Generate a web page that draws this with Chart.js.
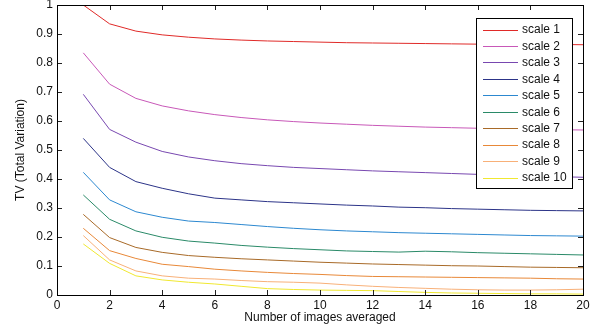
<!DOCTYPE html>
<html>
<head>
<meta charset="utf-8">
<script src="https://cdn.jsdelivr.net/npm/chart.js@4/dist/chart.umd.min.js"></script>
<style>
  html, body { margin: 0; padding: 0; background: #fff; }
  #wrap { width: 598px; height: 329px; }
</style>
</head>
<body>
<div id="wrap"><canvas id="tvChart"></canvas></div>
<script>
const images = [1, 2, 3, 4, 5, 6, 7, 8, 9, 10, 11, 12, 13, 14, 15, 16, 17, 18, 19, 20];

const scale1 = [1.000, 0.935, 0.910, 0.897, 0.889, 0.883, 0.879, 0.876, 0.874, 0.872, 0.870, 0.869, 0.868, 0.867, 0.866, 0.865, 0.865, 0.864, 0.864, 0.863];
const scale2 = [0.835, 0.727, 0.678, 0.652, 0.635, 0.622, 0.612, 0.604, 0.598, 0.593, 0.589, 0.585, 0.582, 0.579, 0.577, 0.575, 0.573, 0.572, 0.570, 0.569];
const scale3 = [0.692, 0.571, 0.527, 0.495, 0.476, 0.463, 0.453, 0.446, 0.440, 0.436, 0.432, 0.428, 0.425, 0.422, 0.419, 0.416, 0.413, 0.410, 0.408, 0.406];
const scale4 = [0.540, 0.440, 0.391, 0.368, 0.349, 0.334, 0.328, 0.322, 0.318, 0.314, 0.310, 0.307, 0.303, 0.301, 0.298, 0.296, 0.294, 0.292, 0.291, 0.290];
const scale5 = [0.423, 0.328, 0.287, 0.268, 0.255, 0.250, 0.243, 0.236, 0.230, 0.225, 0.221, 0.218, 0.215, 0.213, 0.211, 0.209, 0.207, 0.205, 0.204, 0.203];
const scale6 = [0.345, 0.261, 0.221, 0.199, 0.186, 0.179, 0.171, 0.165, 0.160, 0.156, 0.152, 0.150, 0.148, 0.151, 0.149, 0.146, 0.144, 0.142, 0.140, 0.138];
const scale7 = [0.278, 0.198, 0.164, 0.147, 0.136, 0.130, 0.125, 0.121, 0.117, 0.113, 0.110, 0.107, 0.105, 0.103, 0.101, 0.100, 0.098, 0.096, 0.095, 0.094];
const scale8 = [0.230, 0.153, 0.126, 0.106, 0.098, 0.089, 0.083, 0.078, 0.074, 0.071, 0.067, 0.064, 0.063, 0.062, 0.061, 0.060, 0.059, 0.058, 0.056, 0.055];
const scale9 = [0.205, 0.121, 0.083, 0.066, 0.058, 0.055, 0.050, 0.046, 0.044, 0.041, 0.035, 0.030, 0.026, 0.023, 0.020, 0.018, 0.017, 0.017, 0.018, 0.020];
const scale10 = [0.176, 0.109, 0.066, 0.052, 0.044, 0.038, 0.030, 0.022, 0.019, 0.017, 0.016, 0.015, 0.012, 0.009, 0.007, 0.006, 0.005, 0.004, 0.004, 0.003];

const seriesNames = ["scale 1", "scale 2", "scale 3", "scale 4", "scale 5", "scale 6", "scale 7", "scale 8", "scale 9", "scale 10"];
const seriesValues = [scale1, scale2, scale3, scale4, scale5, scale6, scale7, scale8, scale9, scale10];
const seriesColors = ["#e02a28", "#c858b8", "#7848b0", "#2c3488", "#2c88d0", "#2a8a68", "#a86a28", "#e88838", "#f8b078", "#f0e830"];

const xTicks = [0, 2, 4, 6, 8, 10, 12, 14, 16, 18, 20];
const yTicks = [0, 0.1, 0.2, 0.3, 0.4, 0.5, 0.6, 0.7, 0.8, 0.9, 1];

const FONT = "'Liberation Sans', Arial, Helvetica, sans-serif";

// box around the plot with ticks pointing inward, plus legend inside the plot
const framePlugin = {
    id: "frame",
    afterDraw(chart) {
        const ctx = chart.ctx;
        const a = chart.chartArea;
        const xs = chart.scales.x;
        const ys = chart.scales.y;
        const len = 5;
        ctx.save();
        ctx.strokeStyle = "#222";
        ctx.lineWidth = 1;
        ctx.beginPath();
        xTicks.forEach(v => {
            const px = Math.round(xs.getPixelForValue(v)) + 0.5;
            ctx.moveTo(px, a.bottom); ctx.lineTo(px, a.bottom - len);
            ctx.moveTo(px, a.top); ctx.lineTo(px, a.top + len);
        });
        yTicks.forEach(v => {
            const py = Math.round(ys.getPixelForValue(v)) + 0.5;
            ctx.moveTo(a.left, py); ctx.lineTo(a.left + len, py);
            ctx.moveTo(a.right, py); ctx.lineTo(a.right - len, py);
        });
        ctx.stroke();
        ctx.strokeStyle = "#000";
        ctx.strokeRect(Math.round(a.left) + 0.5, Math.round(a.top) + 0.5,
            Math.round(a.right - a.left), Math.round(a.bottom - a.top));

        // legend
        const bx = 476.5, by = 18.5, bw = 96, bh = 170;
        ctx.fillStyle = "#fff";
        ctx.fillRect(bx, by, bw, bh);
        ctx.strokeStyle = "#000";
        ctx.strokeRect(bx, by, bw, bh);
        ctx.font = "12px " + FONT;
        ctx.textBaseline = "middle";
        chart.data.datasets.forEach((ds, i) => {
            const y = 29.5 + i * 16.45;
            ctx.strokeStyle = ds.borderColor;
            ctx.beginPath();
            ctx.moveTo(483, Math.round(y) + 0.5);
            ctx.lineTo(518, Math.round(y) + 0.5);
            ctx.stroke();
            ctx.fillStyle = "#111";
            ctx.fillText(ds.label, 522, y + 0.5);
        });
        ctx.restore();
    }
};

new Chart(document.getElementById("tvChart"), {
    type: "line",
    data: {
        datasets: seriesValues.map((vals, i) => ({
            label: seriesNames[i],
            data: vals.map((v, j) => ({ x: images[j], y: v })),
            borderColor: seriesColors[i],
            backgroundColor: seriesColors[i],
            borderWidth: 1,
            pointRadius: 0,
            tension: 0,
            fill: false
        }))
    },
    options: {
        responsive: true,
        maintainAspectRatio: false,
        animation: false,
        layout: { padding: { top: 5, right: 15, left: 0, bottom: 0 } },
        plugins: {
            legend: { display: false },
            tooltip: { enabled: false }
        },
        scales: {
            x: {
                type: "linear",
                min: 0,
                max: 20,
                afterBuildTicks: s => { s.ticks = xTicks.map(v => ({ value: v })); },
                afterFit: s => { s.height = 34; s.paddingLeft = 0; s.paddingRight = 0; },
                grid: { display: false, drawTicks: false },
                border: { display: false },
                ticks: {
                    color: "#111",
                    padding: 3,
                    maxRotation: 0,
                    font: { family: FONT, size: 12 }
                },
                title: {
                    display: true,
                    text: "Number of images averaged",
                    color: "#111",
                    padding: { top: 0, bottom: 4 },
                    font: { family: FONT, size: 12 }
                }
            },
            y: {
                type: "linear",
                min: 0,
                max: 1,
                afterBuildTicks: s => { s.ticks = yTicks.map(v => ({ value: v })); },
                afterFit: s => { s.width = 57; s.paddingTop = 0; s.paddingBottom = 0; },
                grid: { display: false, drawTicks: false },
                border: { display: false },
                ticks: {
                    color: "#111",
                    padding: 4,
                    font: { family: FONT, size: 12 },
                    callback: v => String(Math.round(v * 10) / 10)
                },
                title: {
                    display: true,
                    text: "TV (Total Variation)",
                    color: "#111",
                    padding: { top: 13, bottom: 0 },
                    font: { family: FONT, size: 12 }
                }
            }
        }
    },
    plugins: [framePlugin]
});
</script>
</body>
</html>
